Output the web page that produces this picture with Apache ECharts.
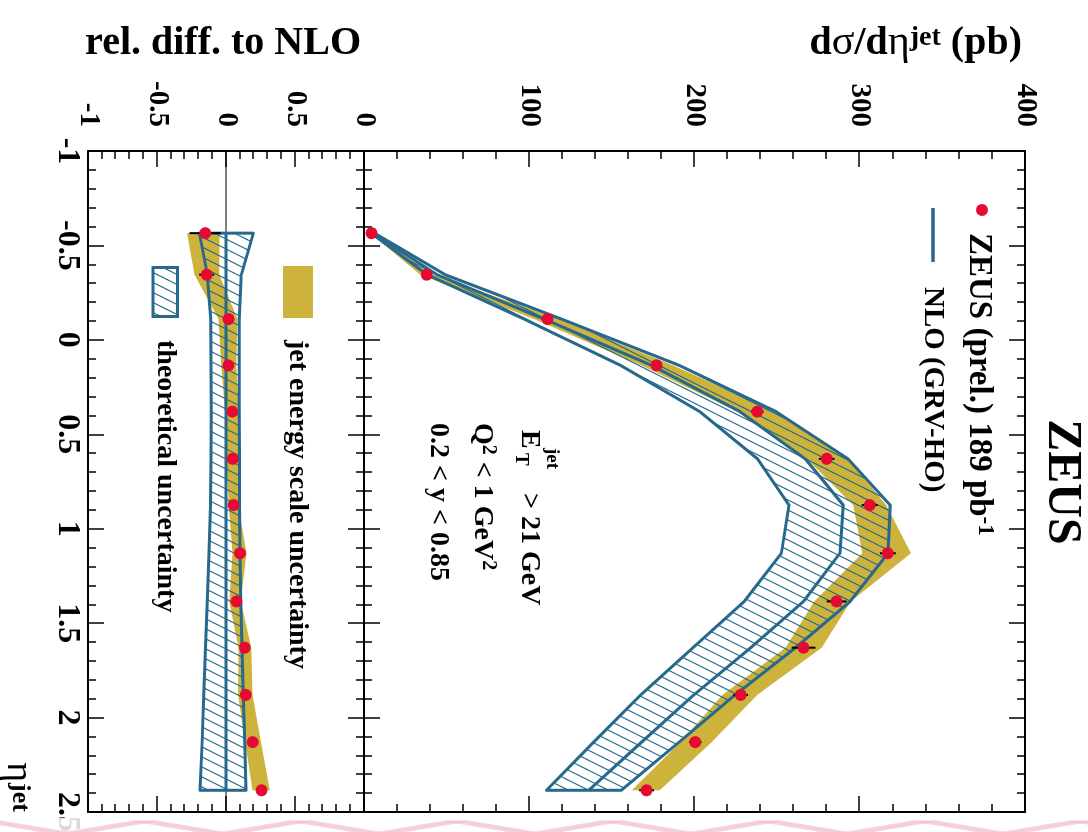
<!DOCTYPE html>
<html>
<head>
<meta charset="utf-8">
<title>ZEUS inclusive jets: dσ/dη^jet</title>
<script src="https://cdn.jsdelivr.net/npm/echarts@6.0.0/dist/echarts.min.js"></script>
<style>
  html, body { margin: 0; padding: 0; background: #fff; width: 1088px; height: 832px; overflow: hidden; }
  /* the plot is laid out upright (832 x 1088) and turned a quarter turn clockwise */
  #chart { position: absolute; left: 0; top: 0; width: 832px; height: 1088px;
           transform-origin: 0 0; transform: translate(1088px, 0) rotate(90deg); }
</style>
</head>
<body>
<div id="chart"></div>
<script>
// eta^jet bin centres
const eta = [-0.565, -0.345, -0.11, 0.135, 0.38, 0.63, 0.875, 1.13, 1.385, 1.63, 1.88, 2.13, 2.385];
// measured dsigma/deta^jet (pb) and statistical errors (pb)
const dsigma  = [4.5, 38, 111, 177, 238, 280, 306, 317, 286, 266, 228, 200.5, 171];
const statErr = [0.6, 2.4, 2.5, 3.2, 3.8, 4.7, 4.8, 4.8, 6.0, 7.2, 4.4, 3.8, 4.5];
// jet energy scale uncertainty (pb), downward and upward
const jesDown = [0.7, 3.9, 8, 9, 12, 12, 10, 15.5, 13.5, 11, 11, 9, 9];
const jesUp   = [0.55, 4, 7, 10, 11, 13, 10, 14, 8.5, 11, 10, 10, 8];
// NLO (GRV-HO) prediction (pb) and its relative theoretical uncertainty
const nlo        = [5.3, 44.2, 109, 174, 227.5, 267, 290, 288, 266, 234, 199.6, 168, 136];
const nloRelDown = [-0.193, -0.135, -0.111, -0.108, -0.107, -0.108, -0.113, -0.123, -0.135, -0.149, -0.161, -0.173, -0.188];
const nloRelUp   = [0.198, 0.111, 0.096, 0.096, 0.096, 0.097, 0.098, 0.101, 0.106, 0.116, 0.125, 0.135, 0.145];
// tick labels shown on the ratio axis (its top value 1 stays blank where the panels meet)
const relTickLabels = ['-1', '-0.5', '0', '0.5'];

const BLUE = '#26698c', GOLD = '#cdb23c', RED = '#e60a33';
const SERIF = '"Liberation Serif", "Times New Roman", Times, serif';

// derived curves for both panels
const nloHi = nlo.map((v, i) => v * (1 + nloRelUp[i]));
const nloLo = nlo.map((v, i) => v * (1 + nloRelDown[i]));
const dataHi = dsigma.map((v, i) => v + jesUp[i]);
const dataLo = dsigma.map((v, i) => v - jesDown[i]);
const ratio = dsigma.map((v, i) => v / nlo[i] - 1);
const ratioErr = statErr.map((e, i) => e / nlo[i]);
const ratioHi = dataHi.map((v, i) => v / nlo[i] - 1);
const ratioLo = dataLo.map((v, i) => v / nlo[i] - 1);
const nloRatio = nlo.map((v, i) => v / nlo[i] - 1);

// diagonal hatching for the theoretical band
function hatch() {
  const c = document.createElement('canvas');
  c.width = 10; c.height = 20;
  const g = c.getContext('2d');
  g.strokeStyle = BLUE; g.lineWidth = 1.2;
  for (const dx of [-10, 0, 10]) {
    g.beginPath(); g.moveTo(dx - 5, 30); g.lineTo(dx + 15, -10); g.stroke();
  }
  return { image: c, repeat: 'repeat' };
}
const HATCH = hatch();

function etaAxis(grid, pos, withLabels) {
  return {
    type: 'value', gridIndex: grid, position: pos, min: -1, max: 2.5, interval: 0.5,
    axisLine: { show: true, onZero: false, lineStyle: { color: '#000', width: 2 } },
    axisTick: { show: true, inside: true, length: 16, lineStyle: { color: '#000', width: 1.5 } },
    minorTick: { show: true, splitNumber: 5, length: 8, lineStyle: { color: '#000', width: 1.5 } },
    splitLine: { show: false }, minorSplitLine: { show: false },
    axisLabel: withLabels ? {
      show: true, margin: 5, fontSize: 32, fontWeight: 'bold', fontFamily: SERIF, color: '#000',
      showMinLabel: true, showMaxLabel: true
    } : { show: false }
  };
}
function valAxis(grid, pos, min, max, interval, formatter) {
  return {
    type: 'value', gridIndex: grid, position: pos, min, max, interval,
    axisLine: { show: true, onZero: false, lineStyle: { color: '#000', width: 2 } },
    axisTick: { show: true, inside: true, length: 16, lineStyle: { color: '#000', width: 1.5 } },
    minorTick: { show: true, splitNumber: 5, length: 8, lineStyle: { color: '#000', width: 1.5 } },
    splitLine: { show: false }, minorSplitLine: { show: false },
    axisLabel: formatter ? {
      show: true, margin: 24, fontSize: 29, fontWeight: 'bold', fontFamily: SERIF, color: '#000',
      showMinLabel: true, showMaxLabel: true, formatter
    } : { show: false }
  };
}

function band(xi, yi, hi, lo, style, z) {
  return {
    type: 'custom', xAxisIndex: xi, yAxisIndex: yi, z, silent: true,
    data: [[eta[0], lo[0]]],
    renderItem: function (params, api) {
      const pts = [];
      for (let i = 0; i < eta.length; i++) pts.push(api.coord([eta[i], hi[i]]));
      for (let i = eta.length - 1; i >= 0; i--) pts.push(api.coord([eta[i], lo[i]]));
      return { type: 'polygon', shape: { points: pts }, style: style };
    }
  };
}
function errorBars(xi, yi, vals, errs, z) {
  return {
    type: 'custom', xAxisIndex: xi, yAxisIndex: yi, z, silent: true,
    data: eta.map((e, i) => [e, vals[i], errs[i]]),
    renderItem: function (params, api) {
      const e = api.value(0), v = api.value(1), d = api.value(2);
      const a = api.coord([e, v - d]), b = api.coord([e, v + d]);
      return { type: 'line', shape: { x1: a[0], y1: a[1], x2: b[0], y2: b[1] },
               style: { stroke: '#000', lineWidth: 2 } };
    }
  };
}
function curve(xi, yi, vals, color, width, z) {
  return {
    type: 'line', xAxisIndex: xi, yAxisIndex: yi, z, silent: true, symbol: 'none',
    data: eta.map((e, i) => [e, vals[i]]),
    lineStyle: { color, width }
  };
}
function points(xi, yi, vals, z) {
  return {
    type: 'scatter', xAxisIndex: xi, yAxisIndex: yi, z, silent: true,
    symbol: 'circle', symbolSize: 12,
    data: eta.map((e, i) => [e, vals[i]]),
    itemStyle: { color: RED, opacity: 1 }
  };
}

// text helper: x, baseline position, string, size
function label(x, base, str, size, extra) {
  extra = extra || {};
  return {
    type: 'text', x, y: base - 0.34 * size, silent: true, z: 100,
    style: Object.assign({
      text: str, fontSize: size, fontWeight: extra.weight || 'bold', fontFamily: SERIF,
      fill: '#000', align: extra.align || 'left', verticalAlign: 'middle'
    }, extra.style || {})
  };
}
function supText(x, base, parts, size, supSize) {
  // parts: array of [text, isSuperscript]
  const str = parts.map(p => (p[1] ? '{s|' : '{m|') + p[0] + '}').join('');
  return {
    type: 'text', x, y: base - 0.34 * size, silent: true, z: 100,
    style: {
      text: str, fill: '#000', align: 'left', verticalAlign: 'middle',
      rich: {
        m: { fontSize: size, fontWeight: 'bold', fontFamily: SERIF, lineHeight: size + 2, verticalAlign: 'bottom', fill: '#000' },
        s: { fontSize: supSize, fontWeight: 'bold', fontFamily: SERIF, lineHeight: Math.round(supSize / 2), verticalAlign: 'top', fill: '#000' }
      }
    }
  };
}

// faint zig-zag strip along the lower page edge
const stripLines = [];
for (let k = 0; k < 3; k++) {
  const pts = [];
  for (let y = -80 + k * 9, j = 0; y <= 1170; y += 78, j++) pts.push([j % 2 ? 821 : 834, y]);
  stripLines.push({ type: 'polyline', silent: true, z: 200, shape: { points: pts },
    style: { stroke: '#f3b6cb', lineWidth: 2, fill: null, opacity: 0.6 } });
}

const option = {
  animation: false,
  backgroundColor: '#fff',
  grid: [
    { left: 151, right: 20, top: 63, height: 661, containLabel: false, outerBoundsMode: 'none' },
    { left: 151, right: 20, top: 724, height: 276, containLabel: false, outerBoundsMode: 'none' }
  ],
  xAxis: [
    etaAxis(0, 'bottom', false),
    etaAxis(0, 'top', false),
    etaAxis(1, 'bottom', true),
    etaAxis(1, 'top', false)
  ],
  yAxis: [
    valAxis(0, 'left', 0, 400, 100, v => String(v)),
    valAxis(0, 'right', 0, 400, 100, null),
    valAxis(1, 'left', -1, 1, 0.5, v => relTickLabels.indexOf(String(v)) >= 0 ? String(v) : ''),
    valAxis(1, 'right', -1, 1, 0.5, null)
  ],
  series: [
    // cross-section panel
    band(0, 0, dataHi, dataLo, { fill: GOLD }, 3),
    band(0, 0, nloHi, nloLo, { fill: HATCH, stroke: BLUE, lineWidth: 3, lineJoin: 'round' }, 4),
    curve(0, 0, nlo, BLUE, 3, 5),
    errorBars(0, 0, dsigma, statErr, 6),
    points(0, 0, dsigma, 7),
    // ratio panel
    {
      type: 'line', xAxisIndex: 2, yAxisIndex: 2, z: 2, silent: true, symbol: 'none',
      data: [[-1, 0], [2.5, 0]], lineStyle: { color: '#000', width: 1.2 }
    },
    band(2, 2, ratioHi, ratioLo, { fill: GOLD }, 3),
    band(2, 2, nloRelUp, nloRelDown, { fill: HATCH, stroke: BLUE, lineWidth: 3, lineJoin: 'round' }, 4),
    curve(2, 2, nloRatio, BLUE, 3, 5),
    errorBars(2, 2, ratio, ratioErr, 6),
    points(2, 2, ratio, 7)
  ],
  graphic: [
    // axis titles
    {
      type: 'text', x: 44, y: 727, rotation: Math.PI / 2, silent: true, z: 100,
      style: { text: 'rel. diff. to NLO', fontSize: 40, fontWeight: 'bold', fontFamily: SERIF,
               fill: '#000', align: 'right', verticalAlign: 'middle' }
    },
    {
      type: 'text', x: 44, y: 66, rotation: Math.PI / 2, silent: true, z: 100,
      style: {
        text: '{b|d}{g|σ}{b|/d}{g|η}{s|jet}{b| (pb)}', fill: '#000', align: 'right', verticalAlign: 'middle',
        rich: {
          b: { fontSize: 40, fontWeight: 'bold', fontFamily: SERIF, lineHeight: 40, verticalAlign: 'bottom', fill: '#000' },
          g: { fontSize: 42, fontWeight: 'normal', fontFamily: SERIF, lineHeight: 40, verticalAlign: 'bottom', fill: '#000' },
          s: { fontSize: 28, fontWeight: 'bold', fontFamily: SERIF, lineHeight: 18, verticalAlign: 'top', fill: '#000' }
        }
      }
    },
    label(782, 1083, 'η', 38, { weight: 'normal', align: 'right' }),
    label(783, 1077, 'jet', 26),
    // experiment tag
    label(482, 43, 'ZEUS', 48, { align: 'center' }),
    // legend of the cross-section panel
    { type: 'circle', silent: true, z: 100, shape: { cx: 210, cy: 106, r: 6 }, style: { fill: RED } },
    supText(233, 120, [['ZEUS (prel.) 189 pb', false], ['-1', true]], 33, 23),
    { type: 'line', silent: true, z: 100, shape: { x1: 208, y1: 155, x2: 262, y2: 155 },
      style: { stroke: BLUE, lineWidth: 3.5 } },
    label(287, 165, 'NLO (GRV-HO)', 29),
    // kinematic region
    label(430, 568, 'E', 28),
    label(448, 543, 'jet', 19),
    label(453, 574, 'T', 19),
    label(493, 568, '> 21 GeV', 28),
    supText(423, 614, [['Q', false], ['2', true], [' < 1 GeV', false], ['2', true]], 28, 20),
    label(423, 659, '0.2 < y < 0.85', 28),
    // legend of the ratio panel
    { type: 'rect', silent: true, z: 100, shape: { x: 266, y: 775, width: 52, height: 30 }, style: { fill: GOLD } },
    label(340, 800, 'jet energy scale uncertainty', 28),
    { type: 'rect', silent: true, z: 100, shape: { x: 267.5, y: 910.5, width: 49, height: 24.5 },
      style: { fill: HATCH, stroke: BLUE, lineWidth: 3 } },
    label(340, 932, 'theoretical uncertainty', 28),
    // page edge strip
    { type: 'rect', silent: true, z: 199, shape: { x: 818, y: 0, width: 14, height: 1088 },
      style: { fill: 'rgba(255,255,255,0.85)' } }
  ].concat(stripLines)
};

const chart = echarts.init(document.getElementById('chart'), null, { renderer: 'canvas', devicePixelRatio: 1 });
chart.setOption(option);
</script>
</body>
</html>
